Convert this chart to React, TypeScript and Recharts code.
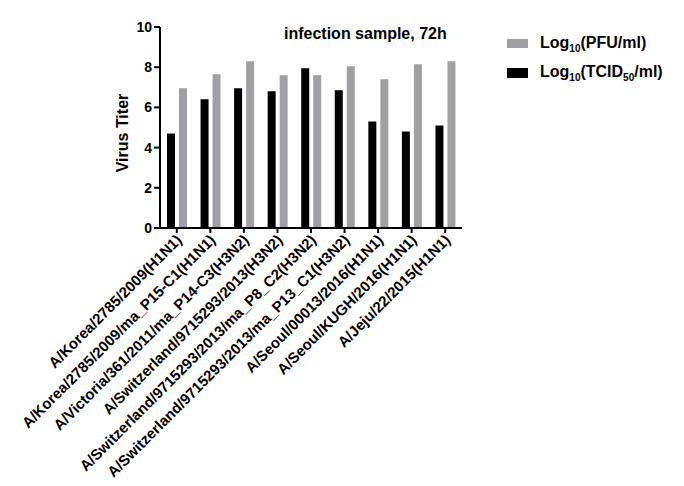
import { BarChart, Bar, XAxis, YAxis } from "recharts";

const strains = [
  "A/Korea/2785/2009(H1N1)",
  "A/Korea/2785/2009/ma_P15-C1(H1N1)",
  "A/Victoria/361/2011/ma_P14-C3(H3N2)",
  "A/Switzerland/9715293/2013(H3N2)",
  "A/Switzerland/9715293/2013/ma_P8_C2(H3N2)",
  "A/Switzerland/9715293/2013/ma_P13_C1(H3N2)",
  "A/Seoul/00013/2016(H1N1)",
  "A/Seoul/KUGH/2016(H1N1)",
  "A/Jeju/22/2015(H1N1)",
];
const tcid50 = [4.7, 6.4, 6.95, 6.8, 7.95, 6.85, 5.3, 4.8, 5.1];
const pfu = [6.95, 7.65, 8.3, 7.6, 7.6, 8.05, 7.4, 8.15, 8.3];
const yTicks = [0, 2, 4, 6, 8, 10];

const FONT = "'Liberation Sans', Arial, sans-serif";
const GRAY = "#a0a0a4";

const data = strains.map((strain, i) => ({
  strain,
  tcid50: tcid50[i],
  pfu: pfu[i],
}));

// rotated category label, ending just past the tick
function StrainTick(props: any) {
  const { x, y, payload } = props;
  const ax = x + 6;
  const ay = y + 6;
  return (
    <text
      x={ax}
      y={ay}
      transform={`rotate(-45, ${ax}, ${ay})`}
      textAnchor="end"
      fontFamily={FONT}
      fontSize={15}
      fontWeight="bold"
      fill="#000"
    >
      {payload.value}
    </text>
  );
}

// legend drawn beside the plot, PFU first as in the original
function TiterLegend() {
  return (
    <svg width={184} height={70} style={{ position: "absolute", left: 500, top: 25 }}>
      <rect x={7} y={14} width={21} height={9} fill={GRAY} />
      <text x={40} y={23} fontFamily={FONT} fontSize={16} fontWeight="bold" fill="#000">
        Log
        <tspan fontSize={10} dy={4}>10</tspan>
        <tspan dy={-4}>(PFU/ml)</tspan>
      </text>
      <rect x={7} y={43} width={21} height={10} fill="#000" />
      <text x={40} y={52} fontFamily={FONT} fontSize={16} fontWeight="bold" fill="#000">
        Log
        <tspan fontSize={10} dy={4}>10</tspan>
        <tspan dy={-4}>(TCID</tspan>
        <tspan fontSize={10} dy={4}>50</tspan>
        <tspan dy={-4}>/ml)</tspan>
      </text>
    </svg>
  );
}

export default function App() {
  return (
    <div style={{ position: "absolute", left: 0, top: 0, width: 684, height: 486, background: "#fff" }}>
      <BarChart
        width={684}
        height={486}
        data={data}
        margin={{ top: 27, right: 222, bottom: 0, left: 100 }}
        barSize={8}
        barGap={4}
      >
        <XAxis
          dataKey="strain"
          interval={0}
          height={258}
          tickSize={5}
          axisLine={{ stroke: "#000", strokeWidth: 2 }}
          tickLine={{ stroke: "#000", strokeWidth: 2 }}
          tick={<StrainTick />}
        />
        <YAxis
          width={60}
          domain={[0, 10]}
          ticks={yTicks}
          tickSize={6}
          axisLine={{ stroke: "#000", strokeWidth: 2 }}
          tickLine={{ stroke: "#000", strokeWidth: 2 }}
          tick={{ fontSize: 14, fontWeight: "bold", fill: "#000", fontFamily: FONT }}
          label={{
            content: () => (
              <text
                transform="translate(128, 133) rotate(-90)"
                textAnchor="middle"
                fontFamily={FONT}
                fontSize={16}
                fontWeight="bold"
                fill="#000"
              >
                Virus Titer
              </text>
            ),
          }}
        />
        <Bar dataKey="tcid50" fill="#000" isAnimationActive={false} />
        <Bar dataKey="pfu" fill={GRAY} isAnimationActive={false} />
      </BarChart>
      <TiterLegend />
      <div
        style={{
          position: "absolute",
          left: 284,
          top: 25,
          fontFamily: FONT,
          fontSize: 16,
          fontWeight: "bold",
          color: "#000",
          whiteSpace: "nowrap",
        }}
      >
        infection sample, 72h
      </div>
    </div>
  );
}
